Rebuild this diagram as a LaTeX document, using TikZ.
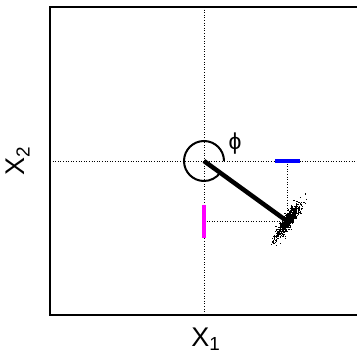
\documentclass[tikz,border=0pt]{standalone}
\usepackage{fontspec}
\setmainfont{Liberation Sans}
\usetikzlibrary{calc}
\definecolor{projblue}{RGB}{0,0,255}
\definecolor{projmag}{RGB}{255,0,255}
\begin{document}
\begin{tikzpicture}[x=1pt,y=1pt,
  frame/.style={line width=1.3pt},
  guide/.style={dotted,line width=0.6pt},
  proj/.style={line width=4.5pt},
  rod/.style={line width=4.5pt},
  lbl/.style={inner sep=0pt,font=\fontsize{27}{27}\selectfont}]
\useasboundingbox (0,0) rectangle (357,357);
\clip (0,0) rectangle (357,357);
\coordinate (c) at (204,196);
\coordinate (e) at (287.5,135.5);
\coordinate (ex) at (287.5,196);
\coordinate (ey) at (204,135.5);
% frame
\draw[frame] (362,350) -- (50,350) -- (50,42) -- (362,42);
% guides
\draw[guide] (50,196) -- (362,196);
\draw[guide] (204,350) -- (204,42);
\draw[guide] (ex) -- (e);
\draw[guide] (ey) -- (e);
% point cloud (deterministic pseudo-random, Box-Muller)
\foreach \i in {1,...,650}{
  \pgfmathsetmacro{\cloudva}{0.002+0.996*frac(abs(sin(\i*12.71+31.7))*937.13)}
  \pgfmathsetmacro{\cloudvb}{frac(abs(sin(\i*22.13+74.3))*719.37)}
  \pgfmathsetmacro{\cloudr}{sqrt(-2*ln(\cloudva))}
  \pgfmathsetmacro{\cloudua}{10*\cloudr*cos(360*\cloudvb)}
  \pgfmathsetmacro{\cloudub}{2.6*\cloudr*sin(360*\cloudvb)}
  \pgfmathsetmacro{\cloudx}{287.5+\cloudua*0.559-\cloudub*0.829}
  \pgfmathsetmacro{\cloudy}{135.5+\cloudua*0.829+\cloudub*0.559}
  \fill (\cloudx,\cloudy) rectangle ++(1.1,1.1);
}
% projections
\draw[proj,projblue] ($(ex)+(-12.5,0)$) -- ($(ex)+(12.5,0)$);
\draw[proj,projmag] ($(ey)+(0,-16.5)$) -- ($(ey)+(0,16.5)$);
% angle arc and rod
\draw[line width=2pt] ($(c)+(0:20)$) arc[start angle=0,end angle=324,radius=20];
\draw[rod] (c) -- (e);
% labels
\node[inner sep=0pt,font=\fontsize{23}{23}\selectfont] (phi) at (235,213) {ϕ};
\node[lbl] (x1) at (206,18) {X\textsubscript{1}};
\node[lbl,rotate=90] (x2) at (18,196) {X\textsubscript{2}};
\end{tikzpicture}
\end{document}
